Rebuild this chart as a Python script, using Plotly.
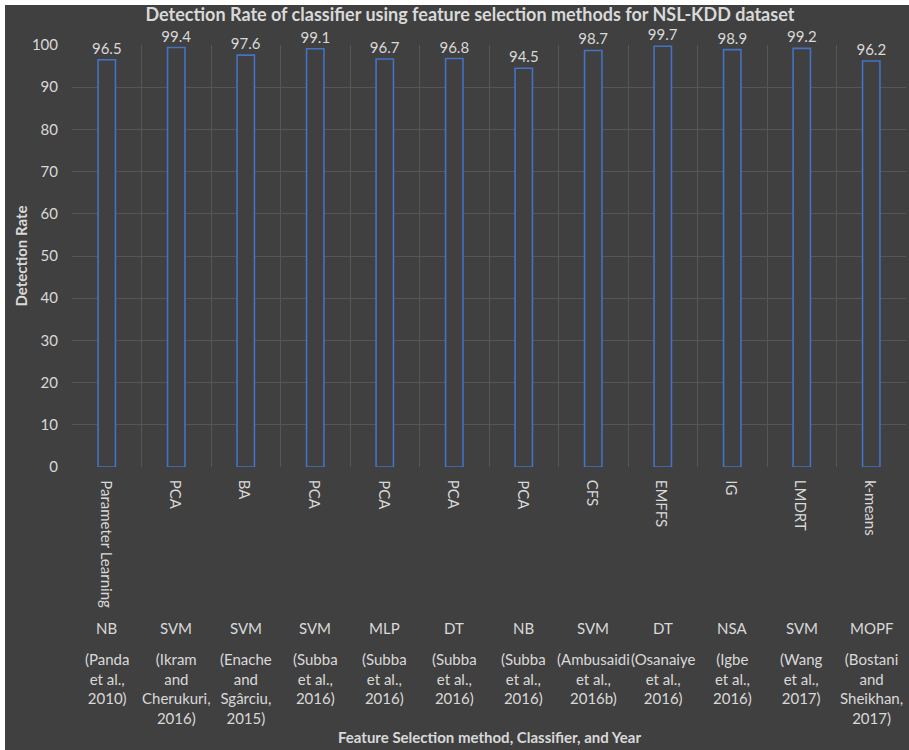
import plotly.graph_objects as go

# Detection rate per study (NSL-KDD)
methods = ["Parameter Learning", "PCA", "BA", "PCA", "PCA", "PCA", "PCA",
           "CFS", "EMFFS", "IG", "LMDRT", "k-means"]
classifiers = ["NB", "SVM", "SVM", "SVM", "MLP", "DT", "NB",
               "SVM", "DT", "NSA", "SVM", "MOPF"]
references = [
    "(Panda<br>et al.,<br>2010)",
    "(Ikram<br>and<br>Cherukuri,<br>2016)",
    "(Enache<br>and<br>Sgârciu,<br>2015)",
    "(Subba<br>et al.,<br>2016)",
    "(Subba<br>et al.,<br>2016)",
    "(Subba<br>et al.,<br>2016)",
    "(Subba<br>et al.,<br>2016)",
    "(Ambusaidi<br>et al.,<br>2016b)",
    "(Osanaiye<br>et al.,<br>2016)",
    "(Igbe<br>et al.,<br>2016)",
    "(Wang<br>et al.,<br>2017)",
    "(Bostani<br>and<br>Sheikhan,<br>2017)",
]
detection_rate = [96.5, 99.4, 97.6, 99.1, 96.7, 96.8, 94.5, 98.7, 99.7, 98.9, 99.2, 96.2]
y_ticks = list(range(0, 101, 10))

BG = "#404040"
GRID = "#565656"
TXT = "#d9d9d9"
BLUE = "#4472C4"
FONT = "Lato, 'Open Sans', sans-serif"

W, H = 909, 750
ML, MR, MT, MB = 72, 3, 45, 283
plot_h = H - MT - MB
plot_w = W - ML - MR


def py(px_from_top):
    """Pixel row on the page -> paper y coordinate."""
    return (H - MB - px_from_top) / plot_h


x_idx = list(range(len(detection_rate)))

fig = go.Figure()
fig.add_trace(go.Bar(
    x=x_idx,
    y=detection_rate,
    width=0.25,
    marker=dict(color=BG, line=dict(color=BLUE, width=1.6)),
    text=[f"{v:.1f}" for v in detection_rate],
    textposition="outside",
    constraintext="none",
    textfont=dict(family=FONT, size=15, color=TXT),
    cliponaxis=False,
    hoverinfo="skip",
))

annotations = []
for i in x_idx:
    # rotated feature-selection method, reading downwards under the axis
    annotations.append(dict(
        x=i, xref="x", y=py(478), yref="paper",
        text=methods[i], textangle=90, showarrow=False,
        xanchor="center", yanchor="top",
        font=dict(family=FONT, size=15, color=TXT),
    ))
    annotations.append(dict(
        x=i, xref="x", y=py(628), yref="paper",
        text=classifiers[i], showarrow=False,
        xanchor="center", yanchor="middle",
        font=dict(family=FONT, size=15, color=TXT),
    ))
    annotations.append(dict(
        x=i, xref="x", y=py(648), yref="paper",
        text=references[i], showarrow=False, align="center",
        xanchor="center", yanchor="top",
        font=dict(family=FONT, size=15, color=TXT),
    ))

# category axis title
annotations.append(dict(
    x=0.5, xref="paper", y=py(737), yref="paper",
    text="<b>Feature Selection method, Classifier, and Year</b>",
    showarrow=False, xanchor="center", yanchor="middle",
    font=dict(family=FONT, size=15, color=TXT),
))

fig.update_layout(
    width=W, height=H,
    margin=dict(l=ML, r=MR, t=MT, b=MB),
    paper_bgcolor=BG, plot_bgcolor=BG,
    showlegend=False,
    title=dict(
        text="<b>Detection Rate of classifier using feature selection methods for NSL-KDD dataset</b>",
        x=0.517, xanchor="center", y=1 - 15 / H, yanchor="middle",
        font=dict(family=FONT, size=18, color=TXT),
    ),
    xaxis=dict(
        range=[-0.5, len(detection_rate) - 0.5],
        tickvals=[i - 0.5 for i in x_idx] + [len(x_idx) - 0.5],
        showticklabels=False, ticks="",
        showgrid=True, gridcolor=GRID, gridwidth=1,
        zeroline=False, showline=False,
    ),
    yaxis=dict(
        range=[0, 100], tickvals=y_ticks,
        showgrid=True, gridcolor=GRID, gridwidth=1,
        zeroline=False, showline=False,
        tickfont=dict(family=FONT, size=15, color=TXT),
        ticks="", ticklabelstandoff=13,
        title=dict(text="<b>Detection Rate</b>",
                   font=dict(family=FONT, size=15, color=TXT), standoff=0),
    ),
    annotations=annotations,
    shapes=[
        # thin white frame strips along the top and left edges
        dict(type="rect", xref="paper", yref="paper",
             x0=-ML / plot_w, x1=1 + MR / plot_w,
             y0=py(5), y1=py(0),
             fillcolor="white", line=dict(width=0), layer="above"),
        dict(type="rect", xref="paper", yref="paper",
             x0=-ML / plot_w, x1=-(ML - 5) / plot_w,
             y0=py(H), y1=py(0),
             fillcolor="white", line=dict(width=0), layer="above"),
    ],
)

fig.write_html("out.html")
